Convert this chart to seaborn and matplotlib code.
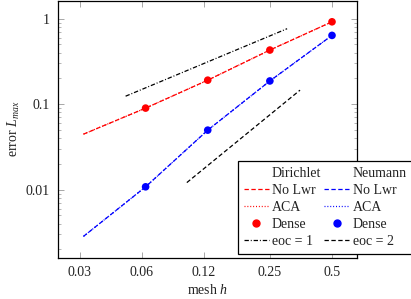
import numpy as np
import matplotlib
matplotlib.use("Agg")
import matplotlib.pyplot as plt
import seaborn as sns
from matplotlib.lines import Line2D
from matplotlib.ticker import FixedLocator, NullFormatter, LogLocator

sns.set_theme(style="ticks")
plt.rcParams['font.family'] = ['Liberation Serif', 'DejaVu Serif']
plt.rcParams['mathtext.fontset'] = 'custom'
plt.rcParams['mathtext.it'] = 'Liberation Serif:italic'
plt.rcParams['mathtext.rm'] = 'Liberation Serif'

# mesh sizes
h_line = [0.03125, 0.0625, 0.125, 0.25, 0.5]
h_dense = [0.0625, 0.125, 0.25, 0.5]

# Dirichlet errors
dir_nolwr = [0.0446, 0.090, 0.191, 0.43, 0.92]
dir_aca = [0.0446, 0.090, 0.191, 0.43, 0.92]
dir_dense = [0.090, 0.191, 0.43, 0.92]

# Neumann errors
neu_nolwr = [0.00284, 0.0108, 0.0497, 0.187, 0.638]
neu_aca = [0.00284, 0.0108, 0.0497, 0.187, 0.638]
neu_dense = [0.0108, 0.0497, 0.187, 0.638]

# reference slopes
eoc1_h = [0.05, 0.303]
eoc1_e = [0.124, 0.764]
eoc2_h = [0.099, 0.35]
eoc2_e = [0.0121, 0.146]

xticks = [0.03, 0.06, 0.12, 0.25, 0.5]
xticklabels = ["0.03", "0.06", "0.12", "0.25", "0.5"]

fs = 10

fig = plt.figure(figsize=(4.11, 2.99), dpi=100)
ax = fig.add_axes([58.3 / 411, 1 - 257.7 / 299, (357.3 - 58.3) / 411, (257.7 - 0.8) / 299])

sns.lineplot(x=h_line, y=dir_nolwr, ax=ax, color="red", linestyle=(0, (3.5, 2)), linewidth=0.9)
sns.lineplot(x=h_line, y=dir_aca, ax=ax, color="red", linestyle=(0, (0.8, 1.5)), linewidth=0.9)
sns.scatterplot(x=h_dense, y=dir_dense, ax=ax, color="red", s=30, edgecolor="none", zorder=5)
sns.lineplot(x=h_line, y=neu_nolwr, ax=ax, color="blue", linestyle=(0, (3.5, 2)), linewidth=0.9)
sns.lineplot(x=h_line, y=neu_aca, ax=ax, color="blue", linestyle=(0, (0.8, 1.5)), linewidth=0.9)
sns.scatterplot(x=h_dense, y=neu_dense, ax=ax, color="blue", s=30, edgecolor="none", zorder=5)
sns.lineplot(x=eoc1_h, y=eoc1_e, ax=ax, color="black", linestyle=(0, (3.5, 1.5, 0.8, 1.5)), linewidth=0.9)
sns.lineplot(x=eoc2_h, y=eoc2_e, ax=ax, color="black", linestyle=(0, (3.5, 2)), linewidth=0.9)

ax.set_xscale("log")
ax.set_yscale("log")
ax.set_xlim(0.0236, 0.663)
ax.set_ylim(0.0016, 1.62)

ax.xaxis.set_major_locator(FixedLocator(xticks))
ax.set_xticklabels(xticklabels)
ax.xaxis.set_minor_locator(FixedLocator([]))
ax.yaxis.set_major_locator(FixedLocator([0.01, 0.1, 1]))
ax.set_yticklabels(["0.01", "0.1", "1"])
ax.yaxis.set_minor_locator(LogLocator(base=10, subs=np.arange(2, 10)))
ax.yaxis.set_minor_formatter(NullFormatter())

ax.tick_params(which="both", direction="in", top=True, right=True, color="#999999",
               labelsize=fs, labelcolor="#222222")
ax.tick_params(which="major", length=4, width=0.6, pad=6)
ax.tick_params(which="minor", length=2.5, width=0.5)
for sp in ax.spines.values():
    sp.set_linewidth(0.9)
    sp.set_color("black")

ax.set_xlabel("mesh $h$", fontsize=fs, color="#222222", labelpad=3)
ax.set_ylabel("error $L_{max}$", fontsize=fs, color="#222222", labelpad=3)

blank = Line2D([], [], linestyle="none")
handles = [
    blank,
    Line2D([], [], color="red", linestyle=(0, (3.5, 2)), linewidth=0.9),
    Line2D([], [], color="red", linestyle=(0, (0.8, 1.5)), linewidth=0.9),
    Line2D([], [], color="red", marker="o", linestyle="none", markersize=5),
    Line2D([], [], color="black", linestyle=(0, (3.5, 1.5, 0.8, 1.5)), linewidth=0.9),
    blank,
    Line2D([], [], color="blue", linestyle=(0, (3.5, 2)), linewidth=0.9),
    Line2D([], [], color="blue", linestyle=(0, (0.8, 1.5)), linewidth=0.9),
    Line2D([], [], color="blue", marker="o", linestyle="none", markersize=5),
    Line2D([], [], color="black", linestyle=(0, (3.5, 2)), linewidth=0.9),
]
labels = ["Dirichlet", "No Lwr", "ACA", "Dense", "eoc = 1",
          "Neumann", "No Lwr", "ACA", "Dense", "eoc = 2"]
leg = ax.legend(handles, labels, ncol=2, loc="upper left",
                bbox_to_anchor=(238 / 411, 1 - 161 / 299), bbox_transform=fig.transFigure,
                fontsize=fs, frameon=True, fancybox=False, framealpha=1,
                handlelength=1.8, handletextpad=0.22, columnspacing=0.25,
                labelspacing=0.3, borderpad=0.4, borderaxespad=0)
leg.get_frame().set_edgecolor("black")
leg.get_frame().set_linewidth(0.9)
for t in leg.get_texts():
    t.set_color("#222222")

fig.savefig("out.png", dpi=100)
